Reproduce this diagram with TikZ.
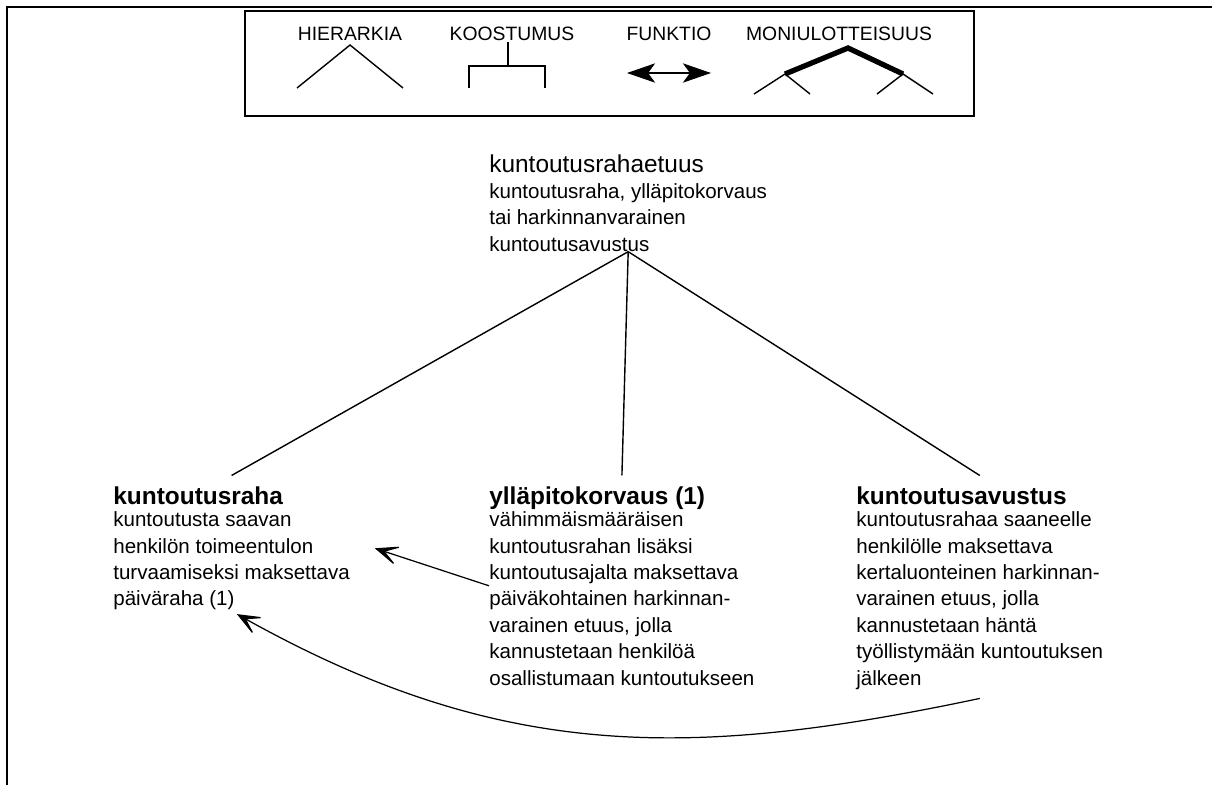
\documentclass[tikz,border=0pt]{standalone}
\usepackage{fontspec}
\setmainfont{Liberation Sans}
\usepackage{tikz}
\usetikzlibrary{arrows.meta}

\newcommand{\isoteksti}[1]{{\fontsize{13.9pt}{15pt}\selectfont #1}}
\newcommand{\otsikko}[1]{{\fontsize{13.9pt}{15pt}\selectfont\bfseries #1}}

\begin{document}
\begin{tikzpicture}[x=0.02cm, y=-0.02cm,
    kuvaus/.style={anchor=north west, align=left, inner sep=0pt, font=\fontsize{11.7pt}{15pt}\selectfont},
    selite/.style={anchor=base, inner sep=0pt, font=\fontsize{11pt}{13pt}\selectfont},
    viiva/.style={line width=0.8pt},
    nuoli/.style={line width=0.7pt, -{Stealth[length=16pt, width=13pt, inset=10pt]}}]
    \useasboundingbox (0,0) rectangle (1212,785);
    % 外框
    \draw[line width=1.4pt] (1212,7) -- (7,7) -- (7,785);
    \draw[line width=1.4pt] (245,11) rectangle (974,116);

    % 图例
    \node[selite] (hier) at (350,40) {HIERARKIA};
    \node[selite] (koos) at (512,40) {KOOSTUMUS};
    \node[selite] (funk) at (669,40) {FUNKTIO};
    \node[selite] (moni) at (839,40) {MONIULOTTEISUUS};
    \draw[viiva] (297,88) -- (350,45) -- (403,88);
    \draw[viiva] (508,42) -- (508,66);
    \draw[viiva] (469,88) -- (469,66) -- (545,66) -- (545,88);
    \draw[line width=0.6pt, {Stealth[length=16pt, width=11pt, inset=4pt]}-{Stealth[length=16pt, width=11pt, inset=4pt]}] (627,73) -- (711,73);
    \draw[line width=3pt] (785,74) -- (848,48) -- (903,74);
    \draw[viiva] (754,94) -- (785,74) -- (810,94);
    \draw[viiva] (877,94) -- (903,74) -- (933,94);

    % 概念
    \node[kuvaus] (etuus) at (489,154) {\isoteksti{kuntoutusrahaetuus}\\ kuntoutusraha, ylläpitokorvaus\\ tai harkinnanvarainen\\ kuntoutusavustus};
    \node[kuvaus] (raha) at (113,486) {\otsikko{kuntoutusraha}\\[-2pt] kuntoutusta saavan\\ henkilön toimeentulon\\ turvaamiseksi maksettava\\ päiväraha (1)};
    \node[kuvaus] (ylla) at (489,486) {\otsikko{ylläpitokorvaus (1)}\\[-2pt] vähimmäismääräisen\\ kuntoutusrahan lisäksi\\ kuntoutusajalta maksettava\\ päiväkohtainen harkinnan-\\ varainen etuus, jolla\\ kannustetaan henkilöä\\ osallistumaan kuntoutukseen};
    \node[kuvaus] (avustus) at (856,486) {\otsikko{kuntoutusavustus}\\[-2pt] kuntoutusrahaa saaneelle\\ henkilölle maksettava\\ kertaluonteinen harkinnan-\\ varainen etuus, jolla\\ kannustetaan häntä\\ työllistymään kuntoutuksen\\ jälkeen};

    \foreach \n in {raha,ylla,avustus}
        \draw[viiva] (etuus.south) -- ([yshift=6pt]\n.north);

    \draw[nuoli] (ylla.west) -- ([xshift=14pt]raha.east);
    \draw[nuoli] ([yshift=-5pt]avustus.south) .. controls +(-293,62) and +(262,146) .. ([xshift=3pt,yshift=-2pt]raha.south);
\end{tikzpicture}
\end{document}
